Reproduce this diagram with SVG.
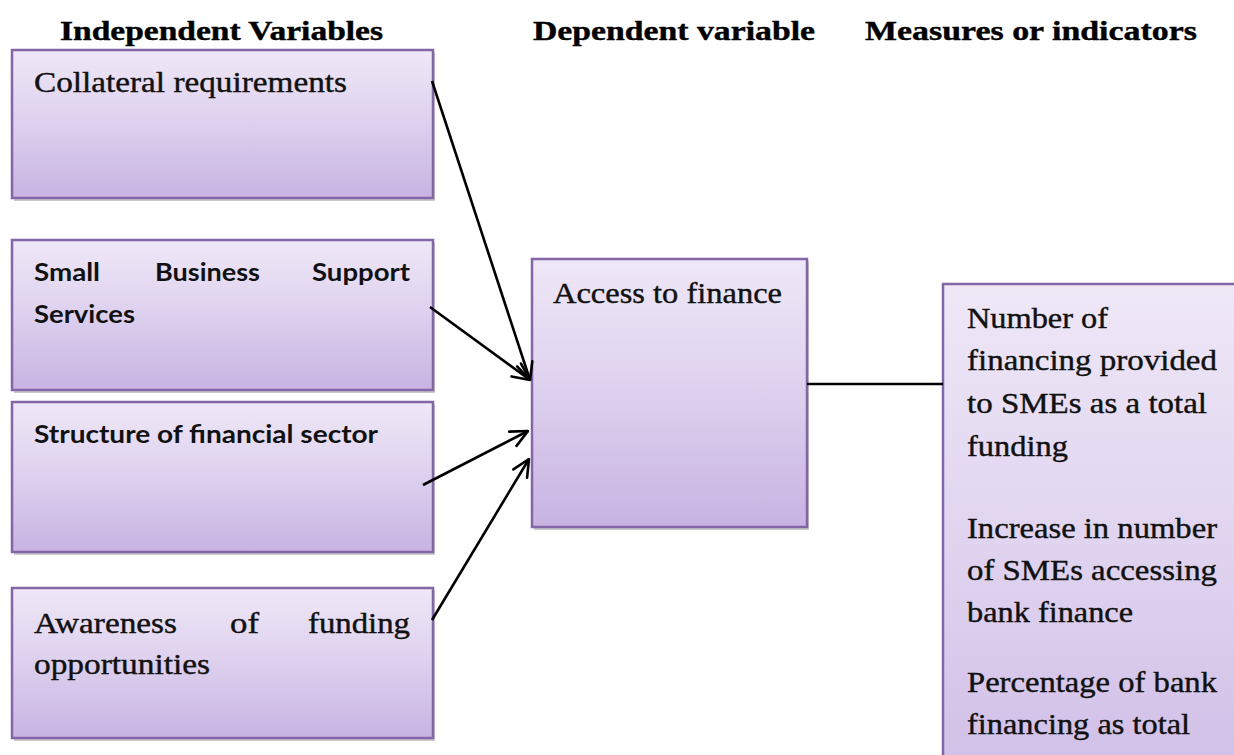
<svg xmlns="http://www.w3.org/2000/svg" width="1234" height="755" viewBox="0 0 1234 755">
  <defs>
    <linearGradient id="boxFill" x1="0" y1="0" x2="0" y2="1">
      <stop offset="0" stop-color="#efe8f7"/>
      <stop offset="0.5" stop-color="#ddd0ee"/>
      <stop offset="1" stop-color="#c8b3e2"/>
    </linearGradient>
    <linearGradient id="tallFill" x1="0" y1="284" x2="0" y2="900" gradientUnits="userSpaceOnUse">
      <stop offset="0" stop-color="#efe8f7"/>
      <stop offset="0.5" stop-color="#ddd0ee"/>
      <stop offset="1" stop-color="#c8b3e2"/>
    </linearGradient>
    <marker id="openArrow" viewBox="0 0 20 20" refX="19" refY="10" markerWidth="20" markerHeight="20" markerUnits="userSpaceOnUse" orient="auto">
      <path d="M2,2 L19,10 L2,18" fill="none" stroke="#000" stroke-width="2.6" stroke-linecap="round" stroke-linejoin="round"/>
    </marker>
  </defs>
  <style>
    .box { fill: url(#boxFill); stroke: #8366a8; stroke-width: 2.5; }
    .shadow { fill: #8a8a8a; opacity: 0.45; }
    .head { font-family: "Liberation Serif", "Times New Roman", serif; font-weight: bold; font-size: 27px; fill: #000; stroke: #000; stroke-width: 0.4; }
    .serif { font-family: "Liberation Serif", "Times New Roman", serif; font-size: 29px; fill: #111; stroke: #111; stroke-width: 0.4; }
    .sans { font-family: Lato, "Liberation Sans", sans-serif; font-weight: bold; font-size: 25px; fill: #111; }
    .conn { stroke: #000; stroke-width: 2.6; fill: none; }
  </style>

  <rect width="1234" height="755" fill="#fff"/>

  <!-- column headings -->
  <g id="headings">
    <text class="head" x="60" y="40" textLength="323" lengthAdjust="spacingAndGlyphs">Independent Variables</text>
    <text class="head" x="533" y="40" textLength="282" lengthAdjust="spacingAndGlyphs">Dependent variable</text>
    <text class="head" x="865" y="40" textLength="332" lengthAdjust="spacingAndGlyphs">Measures or indicators</text>
  </g>

  <!-- independent variables -->
  <g id="collateral">
    <rect class="shadow" x="14" y="52" width="421" height="149"/>
    <rect class="box" x="12" y="50" width="421" height="148"/>
    <text class="serif" x="34" y="92" textLength="313" lengthAdjust="spacingAndGlyphs">Collateral requirements</text>
  </g>

  <g id="support-services">
    <rect class="shadow" x="14" y="242" width="421" height="151"/>
    <rect class="box" x="12" y="240" width="421" height="150"/>
    <text class="sans" x="34" y="281" textLength="66" lengthAdjust="spacingAndGlyphs">Small</text>
    <text class="sans" x="155" y="281" textLength="105" lengthAdjust="spacingAndGlyphs">Business</text>
    <text class="sans" x="312" y="281" textLength="98" lengthAdjust="spacingAndGlyphs">Support</text>
    <text class="sans" x="34" y="323" textLength="101" lengthAdjust="spacingAndGlyphs">Services</text>
  </g>

  <g id="financial-sector">
    <rect class="shadow" x="14" y="404" width="421" height="151"/>
    <rect class="box" x="12" y="402" width="421" height="150"/>
    <text class="sans" x="34" y="443" textLength="344" lengthAdjust="spacingAndGlyphs">Structure of financial sector</text>
  </g>

  <g id="awareness">
    <rect class="shadow" x="14" y="590" width="421" height="151"/>
    <rect class="box" x="12" y="588" width="421" height="150"/>
    <text class="serif" x="34" y="633" textLength="143" lengthAdjust="spacingAndGlyphs">Awareness</text>
    <text class="serif" x="230" y="633" textLength="29" lengthAdjust="spacingAndGlyphs">of</text>
    <text class="serif" x="308" y="633" textLength="102" lengthAdjust="spacingAndGlyphs">funding</text>
    <text class="serif" x="34" y="674" textLength="176" lengthAdjust="spacingAndGlyphs">opportunities</text>
  </g>

  <!-- dependent variable -->
  <g id="access-to-finance">
    <rect class="shadow" x="534" y="261" width="275" height="269"/>
    <rect class="box" x="532" y="259" width="275" height="268"/>
    <text class="serif" x="553" y="303" textLength="229" lengthAdjust="spacingAndGlyphs">Access to finance</text>
  </g>

  <!-- measures -->
  <g id="measures">
    <rect class="box" x="943" y="284" width="320" height="620" style="fill:url(#tallFill)"/>
    <text class="serif" x="967" y="328" textLength="141" lengthAdjust="spacingAndGlyphs">Number of</text>
    <text class="serif" x="967" y="370" textLength="250" lengthAdjust="spacingAndGlyphs">financing provided</text>
    <text class="serif" x="967" y="413" textLength="240" lengthAdjust="spacingAndGlyphs">to SMEs as a total</text>
    <text class="serif" x="967" y="456" textLength="101" lengthAdjust="spacingAndGlyphs">funding</text>
    <text class="serif" x="967" y="538" textLength="250" lengthAdjust="spacingAndGlyphs">Increase in number</text>
    <text class="serif" x="967" y="580" textLength="250" lengthAdjust="spacingAndGlyphs">of SMEs accessing</text>
    <text class="serif" x="967" y="622" textLength="166" lengthAdjust="spacingAndGlyphs">bank finance</text>
    <text class="serif" x="967" y="692" textLength="250" lengthAdjust="spacingAndGlyphs">Percentage of bank</text>
    <text class="serif" x="967" y="734" textLength="223" lengthAdjust="spacingAndGlyphs">financing as total</text>
  </g>

  <!-- connectors -->
  <g id="connectors">
    <line class="conn" x1="432" y1="81" x2="530" y2="380" marker-end="url(#openArrow)"/>
    <line class="conn" x1="430" y1="307" x2="530" y2="380" marker-end="url(#openArrow)"/>
    <line class="conn" x1="423" y1="485" x2="528" y2="431" marker-end="url(#openArrow)"/>
    <line class="conn" x1="432" y1="620" x2="529" y2="459" marker-end="url(#openArrow)"/>
    <line class="conn" x1="807" y1="384" x2="943" y2="384"/>
  </g>
</svg>
